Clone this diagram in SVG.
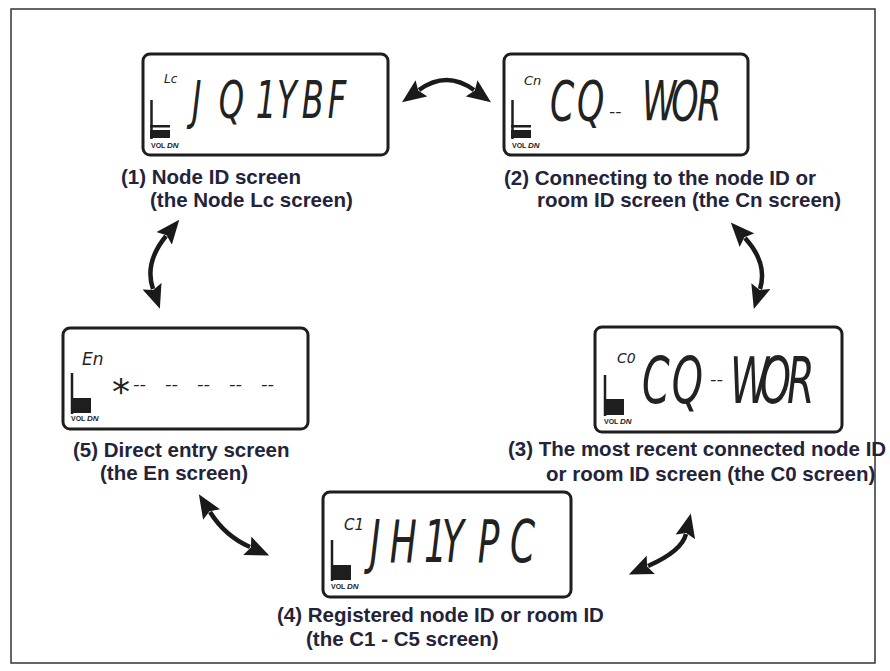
<svg xmlns="http://www.w3.org/2000/svg" width="890" height="671" viewBox="0 0 890 671">
<defs>
<style>
.frame{fill:none;stroke:#333;stroke-width:1.5}
.lcd{fill:#fff;stroke:#1e1e1e;stroke-width:3}
.lbl{font-family:"Liberation Sans",Arial,sans-serif;font-weight:bold;font-size:20.5px;fill:#23233a}
.seg{font-family:"DejaVu Sans",sans-serif;font-weight:200;font-style:oblique;fill:#222}
.vol{font-family:"Liberation Sans",Arial,sans-serif;font-weight:bold;font-size:7px;fill:#222}
.dn{font-family:"Liberation Sans",Arial,sans-serif;font-weight:bold;font-style:italic;font-size:8px;fill:#222}
.meter{stroke:#1e1e1e;stroke-width:2.5}
.blk{fill:#1e1e1e}
.arr{fill:none;stroke:#1a1a1a;stroke-width:4.5;marker-start:url(#ah);marker-end:url(#ah)}
</style>
<marker id="ah" viewBox="0 0 24 20" refX="3" refY="10" markerWidth="24" markerHeight="20" markerUnits="userSpaceOnUse" orient="auto-start-reverse">
<path d="M0,0 L24,10 L0,20 L4,10 Z" fill="#1a1a1a"/>
</marker>
</defs>
<rect x="0" y="0" width="890" height="671" fill="#fff"/>
<rect class="frame" x="11" y="9" width="864" height="654"/>

<g id="node1">
<rect class="lcd" x="143" y="54" width="245" height="101" rx="7"/>
<line class="meter" x1="151.5" y1="100" x2="151.5" y2="139"/>
<rect class="blk" x="150" y="125" width="20" height="2.5"/>
<rect class="blk" x="150" y="130" width="20" height="8"/>
<text class="vol" x="151" y="148">VOL</text><text class="dn" x="167" y="148">DN</text>
<text class="seg" x="164" y="83" font-size="12">Lc</text>
<text class="seg" font-size="52" transform="translate(192,118) scale(0.62,1)" x="0 43 103 137 177 219" y="0">JQ1YBF</text>
<text class="lbl" x="121" y="184">(1) Node ID screen</text>
<text class="lbl" x="150" y="207">(the Node Lc screen)</text>
</g>

<g id="node2">
<rect class="lcd" x="504" y="54" width="244" height="101" rx="7"/>
<line class="meter" x1="512.5" y1="100" x2="512.5" y2="139"/>
<rect class="blk" x="511" y="125" width="20" height="2.5"/>
<rect class="blk" x="511" y="130" width="20" height="8"/>
<text class="vol" x="512" y="148">VOL</text><text class="dn" x="528" y="148">DN</text>
<text class="seg" x="524" y="85" font-size="13">Cn</text>
<text class="seg" font-size="56" transform="translate(550,120) scale(0.62,1)" x="0 43.5" y="0">CQ</text>
<text class="seg" x="609" y="117" font-size="17">--</text>
<text class="seg" font-size="56" transform="translate(642,120) scale(0.62,1)" x="0 47 89" y="0">WOR</text>
<text class="lbl" x="504" y="185">(2) Connecting to the node ID or</text>
<text class="lbl" x="537" y="207">room ID screen (the Cn screen)</text>
</g>

<g id="node3">
<rect class="lcd" x="595" y="327" width="247" height="105" rx="7"/>
<line class="meter" x1="605" y1="375" x2="605" y2="416"/>
<rect class="blk" x="604" y="399" width="20" height="16"/>
<text class="vol" x="604" y="424">VOL</text><text class="dn" x="620" y="424">DN</text>
<text class="seg" x="617" y="363" font-size="14">C0</text>
<text class="seg" font-size="64" transform="translate(642,403) scale(0.62,1)" x="0 48" y="0">CQ</text>
<text class="seg" x="710" y="385" font-size="18">--</text>
<text class="seg" font-size="64" transform="translate(730,403) scale(0.62,1)" x="0 48 92" y="0">WOR</text>
<text class="lbl" x="508" y="456">(3) The most recent connected node ID</text>
<text class="lbl" x="546" y="481">or room ID screen (the C0 screen)</text>
</g>

<g id="node4">
<rect class="lcd" x="323" y="492" width="248" height="105" rx="7"/>
<line class="meter" x1="332" y1="540" x2="332" y2="581"/>
<rect class="blk" x="331" y="565" width="20" height="15"/>
<text class="vol" x="331" y="589">VOL</text><text class="dn" x="347" y="589">DN</text>
<text class="seg" x="344" y="530" font-size="15">C1</text>
<text class="seg" font-size="58" transform="translate(370,562) scale(0.62,1)" x="0 32 87 116 174 226" y="0">JH1YPC</text>
<text class="lbl" x="277" y="622">(4) Registered node ID or room ID</text>
<text class="lbl" x="306" y="646">(the C1 - C5 screen)</text>
</g>

<g id="node5">
<rect class="lcd" x="63" y="328" width="245" height="101" rx="7"/>
<line class="meter" x1="72" y1="373" x2="72" y2="414"/>
<rect class="blk" x="71" y="398" width="20" height="15"/>
<text class="vol" x="71" y="421">VOL</text><text class="dn" x="87" y="421">DN</text>
<text class="seg" x="82" y="365" font-size="17">En</text>
<text class="seg" x="112" y="404" font-size="36">*</text>
<text class="seg" font-size="18" y="390" x="133">--</text>
<text class="seg" font-size="18" y="390" x="165">--</text>
<text class="seg" font-size="18" y="390" x="197">--</text>
<text class="seg" font-size="18" y="390" x="229">--</text>
<text class="seg" font-size="18" y="390" x="261">--</text>
<text class="lbl" x="73" y="457">(5) Direct entry screen</text>
<text class="lbl" x="100" y="480">(the En screen)</text>
</g>

<g id="connectors">
<path class="arr" d="M419,90 Q446.5,70 474,90"/>
<path class="arr" d="M166,236 Q144,263 153,289"/>
<path class="arr" d="M745,238 Q768,263 760,289"/>
<path class="arr" d="M210,512 Q225,536 250,547"/>
<path class="arr" d="M648,566 Q682,551 686,534"/>
</g>
</svg>
